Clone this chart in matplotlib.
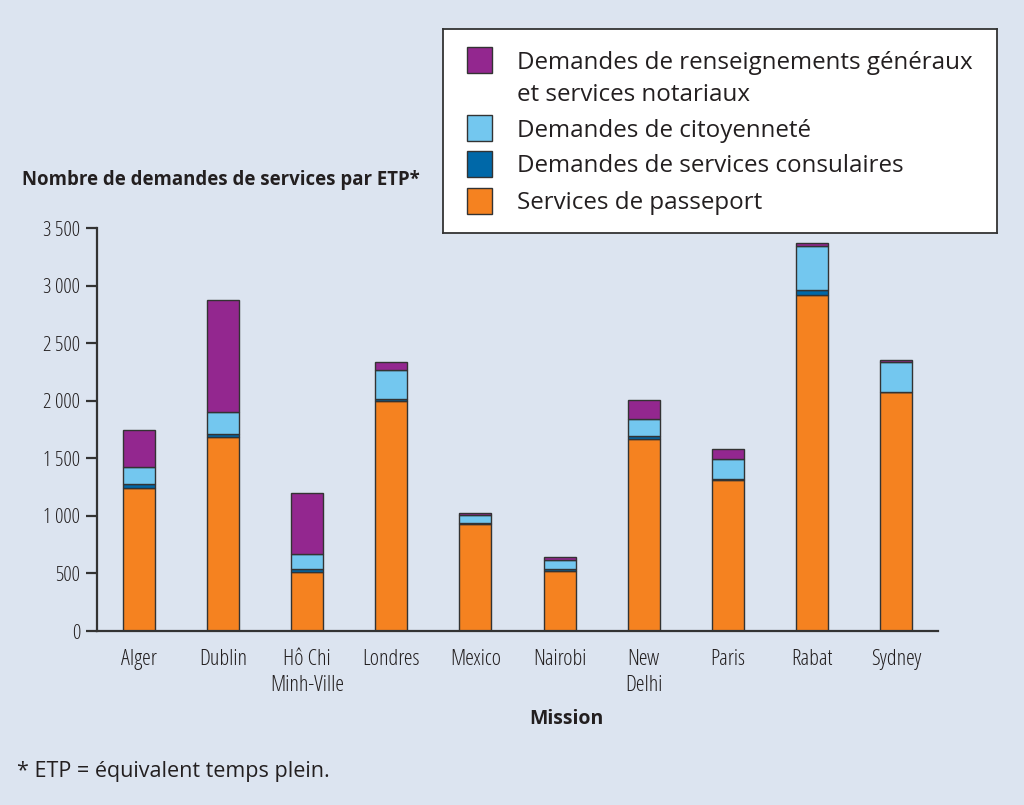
import matplotlib
matplotlib.use("Agg")
import matplotlib.pyplot as plt
import matplotlib.patches as mpatches
import matplotlib.ticker as mticker
import numpy as np

# data (requests per FTE)
missions = ["Alger", "Dublin", "Hô Chi\nMinh-Ville", "Londres", "Mexico",
            "Nairobi", "New\nDelhi", "Paris", "Rabat", "Sydney"]
passeport = [1245, 1685, 510, 2000, 930, 520, 1665, 1310, 2915, 2075]
consulaires = [30, 25, 32, 17, 10, 15, 25, 12, 47, 5]
citoyennete = [150, 192, 125, 250, 65, 80, 150, 170, 385, 253]
generaux = [320, 974, 530, 66, 20, 30, 168, 90, 23, 24]

series_labels = ["Services de passeport",
                 "Demandes de services consulaires",
                 "Demandes de citoyenneté",
                 "Demandes de renseignements généraux\net services notariaux"]
COLORS = ["#F58220", "#0068A8", "#73C7EF", "#93278F"]
BG = "#DCE4F0"
EDGE = "#333333"
TXT = "#231F20"

COND = dict(family=["Open Sans", "DejaVu Sans"], stretch="condensed")
REG = dict(family=["Open Sans", "DejaVu Sans"], stretch="normal")

fig = plt.figure(figsize=(10.24, 8.05), dpi=100)
fig.patch.set_facecolor(BG)
ax = fig.add_axes((0.0947, 0.2161, 0.8213, 0.5006))
ax.set_facecolor(BG)

x = np.arange(len(missions))
bottom = np.zeros(len(missions))
for vals, col in zip([passeport, consulaires, citoyennete, generaux], COLORS):
    ax.bar(x, vals, 0.38, bottom=bottom, color=col, edgecolor=EDGE, linewidth=1.0)
    bottom += np.array(vals)

ax.set_xlim(-0.5, len(missions) - 0.5)
ax.set_ylim(0, 3500)
ax.yaxis.set_major_locator(mticker.MultipleLocator(500))
ax.yaxis.set_major_formatter(mticker.FuncFormatter(
    lambda v, p: f"{int(v):,}".replace(",", "\u202f")))
for s in ["top", "right"]:
    ax.spines[s].set_visible(False)
for s in ["left", "bottom"]:
    ax.spines[s].set_color(EDGE)
    ax.spines[s].set_linewidth(1.6)
ax.tick_params(axis="y", length=8, width=1.6, color=EDGE, pad=4)
ax.tick_params(axis="x", length=0, pad=13)
ax.set_xticks(x)
ax.set_xticklabels(missions, fontsize=16, color=TXT, linespacing=1.3, **COND)
for lbl in ax.get_yticklabels():
    lbl.set_fontsize(15)
    lbl.set_family(COND["family"])
    lbl.set_stretch(COND["stretch"])
    lbl.set_color(TXT)

fig.text(0.0215, 0.776, "Nombre de demandes de services par ETP*", fontsize=13.4,
         fontweight="bold", color=TXT, va="center", **COND)
fig.text(0.553, 0.107, "Mission", fontsize=14, fontweight="bold",
         color=TXT, ha="center", va="center", **COND)
fig.text(0.017, 0.042, "* ETP = équivalent temps plein.", fontsize=15.5,
         color=TXT, va="center", **REG)

# legend box drawn in pixel coordinates of the figure
lax = fig.add_axes((443 / 1024, 1 - 233 / 805, (997 - 443) / 1024, (233 - 29) / 805))
lax.set_xlim(443, 997)
lax.set_ylim(233, 29)
lax.set_xticks([])
lax.set_yticks([])
lax.set_facecolor("white")
for s in lax.spines.values():
    s.set_color(EDGE)
    s.set_linewidth(1.3)
sq_top = [47, 115, 151, 188]
txt_y = [79, 131, 166, 203]
for col, lab, yt, ty in zip(COLORS[::-1], series_labels[::-1], sq_top, txt_y):
    lax.add_patch(mpatches.Rectangle((467, yt), 25, 26, facecolor=col,
                                     edgecolor=EDGE, linewidth=1.0))
    lax.text(517, ty, lab, fontsize=17.4, color=TXT, va="center", ha="left",
             linespacing=1.4, **REG)

fig.savefig("out.png", dpi=100, facecolor=fig.get_facecolor())
